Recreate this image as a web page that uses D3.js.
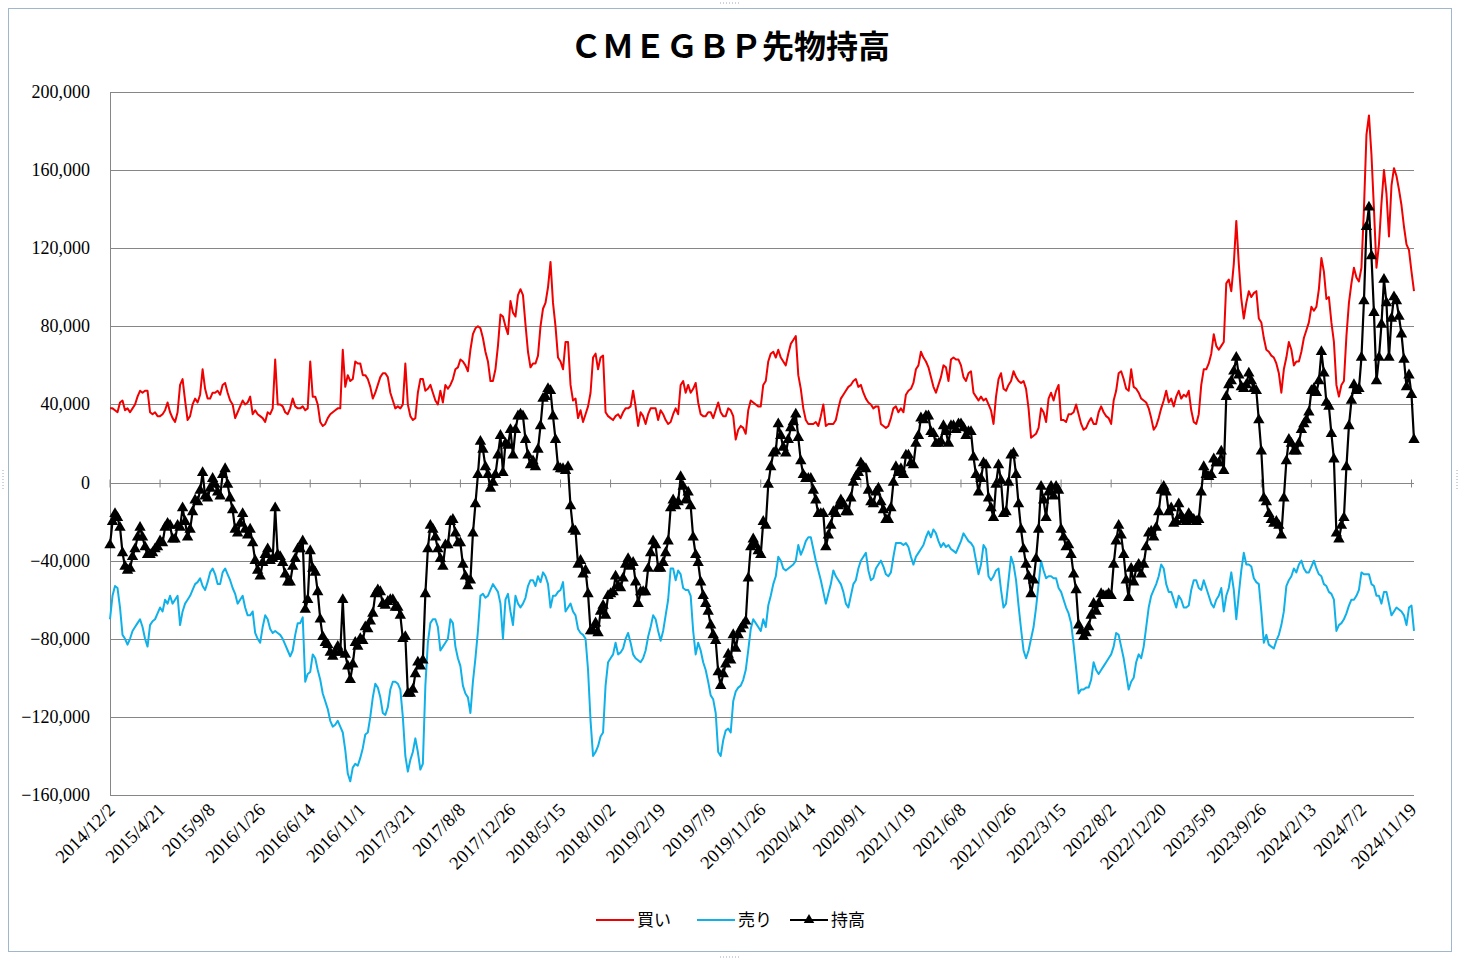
<!DOCTYPE html>
<html><head><meta charset="utf-8">
<script src="https://cdn.jsdelivr.net/npm/d3@7"></script>
<style>body{margin:0;background:#fff} svg{display:block}</style>
</head><body><svg id="c" width="1460" height="960"></svg>
<script>
// Weekly CME GBP futures positions (units: thousand contracts), from 2014/12/2
const tickLabels = ["2014/12/2","2015/4/21","2015/9/8","2016/1/26","2016/6/14","2016/11/1","2017/3/21","2017/8/8","2017/12/26","2018/5/15","2018/10/2","2019/2/19","2019/7/9","2019/11/26","2020/4/14","2020/9/1","2021/1/19","2021/6/8","2021/10/26","2022/3/15","2022/8/2","2022/12/20","2023/5/9","2023/9/26","2024/2/13","2024/7/2","2024/11/19"];
const yTickValues = [200000,160000,120000,80000,40000,0,-40000,-80000,-120000,-160000];
const seriesNames = ["買い","売り","持高"];

const buyK = [
38,38,37,36,41,42,37,38,36,38, 40,44,47,46,47,47,36,35,36,34, 34,35,37,41,36,33,31,36,50,53, 42,32,34,40,43,41,45,58,48,43,
43,46,46,47,45,50,51,46,42,40, 33,36,39,42,40,41,44,35,37,35, 34,33,31,36,35,38,63,40,40,39, 36,35,38,43,39,38,38,39,37,38,
62,44,44,40,31,29,30,33,35,36, 37,38,38,68,49,55,52,53,62,61, 61,55,55,53,49,43,46,50,54,56, 56,54,46,42,38,39,38,40,61,40,
34,32,33,46,53,53,47,48,50,46, 42,40,47,41,50,48,50,53,58,59, 63,62,60,57,68,76,79,80,79,74, 67,62,52,52,58,70,86,85,80,76,
93,87,85,96,99,96,81,67,59,61, 61,65,80,89,92,100,113,92,80,64, 62,58,72,72,50,42,43,33,37,31, 35,39,46,64,66,58,64,65,36,34,
33,32,34,35,33,36,38,38,39,47, 39,29,36,34,30,35,38,38,38,32, 37,35,32,30,31,35,38,35,50,52, 46,50,46,48,51,41,35,34,34,36,
36,33,37,41,36,34,34,38,37,34, 22,27,29,28,25,37,42,41,40,39, 39,50,52,62,66,67,64,68,64,62, 60,66,71,73,75,55,48,38,32,30,
30,30,31,29,34,40,29,30,30,30, 32,38,43,45,47,49,50,52,53,49, 50,46,43,41,40,38,39,39,30,29, 28,29,33,38,39,36,38,36,45,47,
48,51,58,60,67,64,62,59,54,49, 46,50,54,60,59,52,63,64,63,63, 60,54,52,56,57,46,44,42,44,42, 43,40,37,30,44,53,56,48,47,50,
52,57,54,52,51,52,48,38,23,24, 25,28,38,36,31,43,46,42,47,50, 32,32,31,35,35,36,40,35,30,27, 28,31,33,30,30,36,39,36,34,33,
30,42,47,56,57,53,48,47,58,49, 48,46,43,42,41,38,33,27,29,33, 38,42,47,41,43,39,44,47,43,45, 44,47,37,31,30,35,50,58,58,61,
66,76,70,68,70,72,102,104,98,112, 134,112,94,84,92,98,95,97,98,84, 82,74,68,67,65,64,61,56,46,58, 64,72,68,60,62,62,67,74,78,82,
90,88,90,99,115,108,94,95,82,72, 50,44,50,52,75,92,102,110,105,103, 110,140,178,188,168,140,110,122,143,160, 148,126,152,161,157,150,142,131,122,119,
108,98];

const sellK = [
-70,-58,-53,-54,-64,-78,-80,-83,-80,-76, -74,-72,-70,-74,-80,-84,-73,-71,-70,-67, -64,-66,-60,-62,-58,-62,-60,-58,-73,-66, -62,-60,-58,-55,-52,-51,-49,-53,-55,-51,
-46,-44,-47,-52,-52,-46,-44,-47,-50,-54, -57,-62,-60,-58,-64,-68,-68,-66,-77,-80, -82,-74,-68,-70,-75,-77,-76,-77,-78,-80, -83,-86,-89,-86,-78,-72,-72,-69,-102,-98,
-97,-88,-90,-96,-101,-108,-112,-116,-122,-125, -124,-122,-125,-128,-137,-149,-153,-146,-144,-145, -141,-136,-129,-128,-120,-110,-103,-105,-110,-118, -119,-115,-106,-102,-102,-103,-106,-120,-140,-148,
-142,-138,-131,-138,-147,-144,-104,-82,-72,-70, -70,-74,-86,-84,-82,-80,-70,-72,-84,-90, -94,-104,-108,-110,-118,-102,-90,-76,-58,-57, -59,-58,-55,-52,-54,-56,-62,-80,-60,-57,
-66,-73,-58,-62,-64,-62,-59,-53,-50,-50, -53,-48,-51,-46,-48,-52,-64,-58,-58,-56, -55,-51,-66,-64,-62,-66,-68,-75,-77,-78, -80,-96,-122,-140,-138,-135,-130,-128,-104,-92,
-90,-88,-82,-88,-87,-85,-80,-77,-82,-88, -90,-91,-92,-90,-86,-79,-74,-68,-70,-76, -81,-76,-68,-60,-44,-44,-50,-45,-47,-54, -55,-55,-58,-76,-88,-82,-86,-92,-96,-102,
-109,-111,-118,-138,-140,-132,-127,-126,-128,-112, -107,-105,-104,-101,-96,-86,-75,-70,-72,-74, -76,-70,-74,-63,-58,-52,-48,-38,-40,-44, -45,-44,-43,-42,-40,-32,-37,-34,-30,-28,
-28,-34,-40,-45,-50,-56,-62,-57,-52,-45, -48,-50,-52,-56,-62,-64,-58,-52,-50,-44, -40,-38,-36,-45,-50,-49,-44,-42,-40,-43, -47,-48,-46,-38,-31,-31,-31,-32,-31,-33,
-38,-42,-38,-36,-34,-32,-28,-25,-28,-24, -26,-30,-33,-31,-33,-32,-34,-35,-36,-33, -30,-26,-28,-30,-31,-33,-40,-47,-42,-32, -34,-48,-50,-48,-45,-44,-55,-64,-62,-50,
-38,-42,-50,-63,-75,-86,-90,-86,-80,-74, -64,-52,-40,-45,-49,-48,-48,-49,-49,-54, -56,-60,-64,-67,-72,-83,-95,-108,-106,-106, -105,-105,-101,-92,-96,-98,-96,-94,-92,-90,
-88,-84,-77,-78,-84,-90,-98,-106,-102,-100, -92,-88,-90,-84,-74,-64,-58,-55,-52,-48, -42,-44,-52,-56,-56,-60,-64,-58,-60,-64, -64,-63,-55,-50,-50,-54,-55,-50,-54,-58,
-62,-64,-60,-58,-54,-66,-58,-54,-46,-55, -70,-57,-45,-36,-42,-42,-43,-49,-51,-52, -66,-82,-78,-83,-84,-85,-81,-78,-73,-66, -53,-50,-48,-44,-46,-42,-40,-44,-46,-46,
-43,-40,-44,-47,-48,-52,-53,-56,-57,-60, -76,-73,-72,-70,-67,-63,-60,-60,-58,-55, -46,-47,-47,-47,-52,-53,-58,-58,-62,-56, -56,-62,-68,-66,-64,-65,-66,-68,-73,-64,
-63,-76];

const netK = [
-32,-20,-16,-18,-23,-36,-43,-45,-44,-38, -34,-28,-23,-28,-33,-37,-37,-36,-34,-33, -30,-31,-23,-21,-22,-29,-29,-22,-23,-13, -20,-28,-24,-15,-9,-10,-4,5,-7,-8,
-3,2,-1,-5,-7,4,7,-1,-8,-14, -24,-26,-21,-16,-24,-27,-24,-31,-40,-45, -48,-41,-37,-34,-40,-39,-13,-37,-38,-41, -47,-51,-51,-43,-39,-34,-34,-30,-65,-60,
-35,-44,-46,-56,-70,-79,-82,-83,-87,-89, -87,-84,-87,-60,-88,-94,-101,-93,-82,-84, -80,-81,-74,-75,-71,-67,-57,-55,-56,-62, -63,-61,-60,-60,-64,-64,-68,-80,-79,-108,
-108,-106,-98,-92,-94,-91,-57,-34,-22,-24, -28,-34,-39,-43,-32,-32,-20,-19,-26,-31, -31,-42,-48,-53,-50,-26,-11,4,21,17, 8,4,-3,0,4,14,24,5,20,19,
27,14,27,34,35,34,22,14,9,11, 8,17,29,43,44,48,47,34,22,8, 7,7,6,8,-12,-24,-25,-42,-40,-47, -45,-57,-76,-76,-72,-77,-66,-63,-68,-58,
-57,-56,-48,-53,-54,-49,-42,-39,-43,-41, -51,-62,-56,-56,-56,-44,-36,-30,-32,-44, -44,-41,-36,-30,-13,-9,-12,-10,3,-2, -9,-5,-12,-28,-37,-41,-51,-58,-62,-66,
-73,-78,-81,-97,-104,-98,-93,-88,-91,-78, -85,-78,-75,-73,-71,-49,-33,-29,-32,-35, -37,-20,-22,-1,8,15,16,30,24,18, 15,22,28,31,35,23,11,4,2,2,
2,-4,-9,-16,-16,-16,-33,-27,-22,-15, -16,-12,-9,-11,-15,-15,-8,0,3,5, 10,8,7,-4,-10,-11,-5,-3,-10,-14, -19,-19,-13,0,8,5,7,4,14,14,
10,9,20,24,33,32,34,34,26,25, 20,20,21,29,26,20,29,29,27,30, 30,28,24,26,26,13,4,-5,2,10, 9,-8,-13,-18,-1,9,1,-16,-15,0,
14,15,4,-11,-24,-34,-42,-48,-57,-50, -39,-24,-2,-9,-18,-5,-2,-7,-2,-4, -24,-28,-33,-32,-37,-47,-55,-73,-76,-79, -77,-74,-68,-62,-66,-62,-57,-58,-58,-57,
-58,-42,-30,-22,-27,-37,-50,-59,-44,-51, -44,-42,-47,-42,-33,-26,-25,-28,-23,-15, -4,-2,-5,-15,-13,-21,-20,-11,-17,-19, -20,-16,-18,-19,-20,-19,-5,8,4,3,
4,12,10,10,16,6,44,50,52,57, 64,55,49,48,50,56,52,48,47,32, 16,-8,-10,-16,-19,-21,-20,-22,-27,-8, 11,22,20,16,16,20,27,30,32,36,
47,48,46,52,67,56,41,39,25,12, -26,-29,-22,-18,8,29,42,50,47,48, 64,93,131,141,116,87,52,64,81,104, 92,64,84,95,93,85,76,63,49,55,
45,22];

const svg = d3.select("#c");
const W = 1460, H = 960;
const n = buyK.length;
const x = d3.scaleLinear().domain([0, n - 1]).range([110, 1414]);
const y = d3.scaleLinear().domain([-160000, 200000]).range([795, 92]);
const gridColor = "#868686";
const red = "#f00000", blue = "#10b0e8";

// chart area border + handles
svg.append("rect").attr("x", 8.5).attr("y", 8.5).attr("width", W - 17).attr("height", H - 17)
  .attr("fill", "#fff").attr("stroke", "#9fb6cc").attr("stroke-width", 1);
const handles = [[720, 3, 740, 3], [720, 957, 740, 957], [3, 470, 3, 490], [1457, 470, 1457, 490]];
svg.selectAll("line.h").data(handles).join("line").attr("class", "h")
  .attr("x1", d => d[0]).attr("y1", d => d[1]).attr("x2", d => d[2]).attr("y2", d => d[3])
  .attr("stroke", "#9aa8b8").attr("stroke-dasharray", "1,2");

// gridlines
svg.append("g").selectAll("line").data(yTickValues).join("line")
  .attr("x1", 110).attr("x2", 1414).attr("y1", d => Math.round(y(d)) + 0.5).attr("y2", d => Math.round(y(d)) + 0.5)
  .attr("stroke", gridColor).attr("stroke-width", 1);
svg.append("line").attr("x1", 110.5).attr("x2", 110.5).attr("y1", y(200000)).attr("y2", y(-160000))
  .attr("stroke", gridColor);

// y labels
svg.append("g").selectAll("text").data(yTickValues).join("text")
  .attr("x", 90).attr("y", d => y(d) + 6).attr("text-anchor", "end")
  .style("font-family", "'Liberation Serif','Times New Roman',serif").style("font-size", "18px").attr("fill", "#000")
  .text(d => d3.format(",")(d));

// category ticks on zero line
const tickIdx = tickLabels.map((t, i) => i * 20);
const y0 = Math.round(y(0)) + 0.5;
svg.append("g").selectAll("line").data(tickIdx).join("line")
  .attr("x1", d => x(d)).attr("x2", d => x(d)).attr("y1", y0 - 4).attr("y2", y0 + 4)
  .attr("stroke", gridColor);

// x labels (rotated, at bottom)
svg.append("g").selectAll("text").data(tickLabels).join("text")
  .attr("transform", (d, i) => `translate(${x(tickIdx[i]) + 6},${811}) rotate(-45)`)
  .attr("text-anchor", "end")
  .style("font-family", "'Liberation Serif','Times New Roman',serif").style("font-size", "18.5px").attr("fill", "#000")
  .text(d => d);

// lines
const line = d3.line().x((d, i) => x(i)).y(d => y(d * 1000));
svg.append("path").datum(buyK).attr("d", line).attr("fill", "none").attr("stroke", red).attr("stroke-width", 2).attr("stroke-linejoin", "round");
svg.append("path").datum(sellK).attr("d", line).attr("fill", "none").attr("stroke", blue).attr("stroke-width", 2).attr("stroke-linejoin", "round");
svg.append("path").datum(netK).attr("d", line).attr("fill", "none").attr("stroke", "#000").attr("stroke-width", 2.2).attr("stroke-linejoin", "round");
const tri = d3.symbol(d3.symbolTriangle, 56);
svg.append("g").selectAll("path").data(netK).join("path")
  .attr("transform", (d, i) => `translate(${x(i)},${y(d * 1000)})`).attr("d", tri).attr("fill", "#000");

// title
svg.append("text").attr("x", 730).attr("y", 58).attr("text-anchor", "middle")
  .style("font-family", "'Noto Sans CJK JP','Noto Sans CJK SC',sans-serif").style("font-size", "32px").style("font-weight", "bold")
  .attr("fill", "#000").text("ＣＭＥＧＢＰ先物持高");

// legend
const legend = [
  {name: seriesNames[0], color: red, x: 596, marker: false},
  {name: seriesNames[1], color: blue, x: 697, marker: false},
  {name: seriesNames[2], color: "#000", x: 790, marker: true}
];
const lg = svg.append("g");
const triLegend = d3.symbol(d3.symbolTriangle, 48);
legend.forEach(l => {
  lg.append("line").attr("x1", l.x).attr("x2", l.x + 38).attr("y1", 920).attr("y2", 920).attr("stroke", l.color).attr("stroke-width", 2);
  if (l.marker) lg.append("path").attr("transform", `translate(${l.x + 19},920)`).attr("d", triLegend).attr("fill", "#000");
  lg.append("text").attr("x", l.x + 41).attr("y", 926).style("font-family", "'Noto Sans CJK JP',sans-serif").style("font-size", "17px").attr("fill", "#000").text(l.name);
});
</script></body></html>
